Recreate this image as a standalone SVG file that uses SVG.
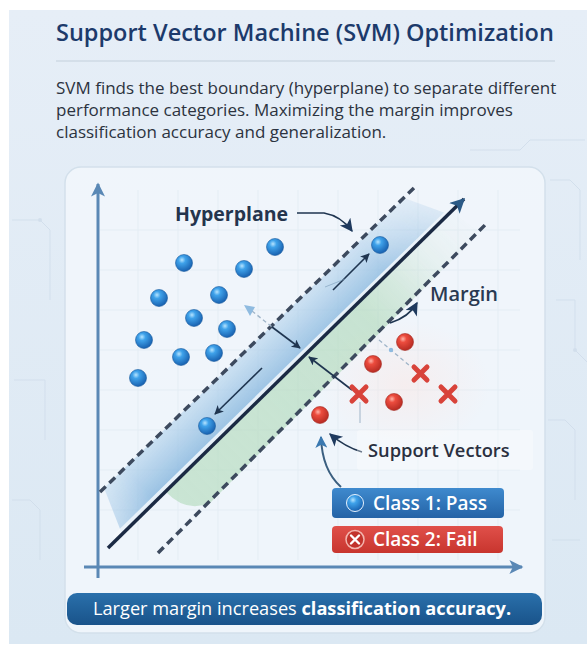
<svg xmlns="http://www.w3.org/2000/svg" width="587" height="646" viewBox="0 0 587 646">
<style>
.title{font-family:"Open Sans","Liberation Sans",sans-serif;font-weight:600;font-size:23.5px;fill:#1c3a6b}
.para{font-family:"Open Sans","Liberation Sans",sans-serif;font-size:17px;fill:#2c3340}
.lbl{font-family:"Open Sans","Liberation Sans",sans-serif;font-weight:700;font-size:19.5px;fill:#24344d}
.lblm{font-family:"Open Sans","Liberation Sans",sans-serif;font-weight:600;font-size:20px;fill:#2a3a52}
.lbls{font-family:"Open Sans","Liberation Sans",sans-serif;font-weight:600;font-size:18.3px;fill:#2a3040}
.leg{font-family:"Open Sans","Liberation Sans",sans-serif;font-weight:600;font-size:19px;fill:#ffffff}
.ban{font-family:"Open Sans","Liberation Sans",sans-serif;font-size:18.2px;fill:#ffffff}
.axis{stroke:#5a88b5;stroke-width:3;fill:none}
.dash{stroke:#3d4a5e;stroke-width:3.5;stroke-dasharray:8 5;fill:none}
.thin{stroke:#1f3550;stroke-width:1.6;fill:none}
.faint{stroke:#9fb4c8;stroke-width:1.3;fill:none;stroke-dasharray:4 3}
.grid{stroke:#dbe6ef;stroke-width:1;opacity:.55}
.trace{stroke:#cfdcea;stroke-width:1;fill:none}
.bd{fill:url(#gBlue);stroke:#1a5a9e;stroke-width:.6}
.rd{fill:url(#gRed);stroke:#a52a22;stroke-width:.6}
.x{stroke:#d8433a;stroke-width:5;stroke-linecap:round}
</style>
<defs>
<linearGradient id="gBg" x1="0" y1="0" x2="0" y2="1">
<stop offset="0" stop-color="#e6eef7"/><stop offset="1" stop-color="#dbe8f3"/>
</linearGradient>
<radialGradient id="gBlue" cx="0.38" cy="0.32" r="0.7">
<stop offset="0" stop-color="#b6e4ff"/><stop offset="0.3" stop-color="#3fa2ea"/><stop offset="1" stop-color="#175fae"/>
</radialGradient>
<radialGradient id="gRed" cx="0.38" cy="0.32" r="0.7">
<stop offset="0" stop-color="#ffb3a8"/><stop offset="0.3" stop-color="#ec4c3e"/><stop offset="1" stop-color="#b52a22"/>
</radialGradient>
<linearGradient id="gBand" gradientUnits="userSpaceOnUse" x1="252" y1="338" x2="284" y2="372">
<stop offset="0" stop-color="#bcd8ee" stop-opacity="0.6"/><stop offset="1" stop-color="#86b6de" stop-opacity="0.8"/>
</linearGradient>
<linearGradient id="gGreen" gradientUnits="userSpaceOnUse" x1="470" y1="215" x2="180" y2="500">
<stop offset="0" stop-color="#cfe6d6" stop-opacity="0.15"/><stop offset="0.35" stop-color="#acd7b6" stop-opacity="0.6"/><stop offset="1" stop-color="#b9ddc2" stop-opacity="0.7"/>
</linearGradient>
<linearGradient id="gFade" gradientUnits="userSpaceOnUse" x1="450" y1="200" x2="105" y2="530">
<stop offset="0" stop-color="#ffffff" stop-opacity="0.15"/><stop offset="0.2" stop-color="#ffffff" stop-opacity="1"/><stop offset="0.88" stop-color="#ffffff" stop-opacity="1"/><stop offset="1" stop-color="#ffffff" stop-opacity="0.4"/>
</linearGradient>
<mask id="mFade" maskUnits="userSpaceOnUse" x="0" y="0" width="587" height="646">
<rect x="0" y="0" width="587" height="646" fill="url(#gFade)"/>
</mask>
<radialGradient id="gPink" cx="0.5" cy="0.5" r="0.5">
<stop offset="0" stop-color="#fbe6e2" stop-opacity="0.5"/><stop offset="1" stop-color="#fbe6e2" stop-opacity="0"/>
</radialGradient>
<linearGradient id="gL1" x1="0" y1="0" x2="0" y2="1">
<stop offset="0" stop-color="#3f8ace"/><stop offset="1" stop-color="#2463a6"/>
</linearGradient>
<linearGradient id="gL2" x1="0" y1="0" x2="0" y2="1">
<stop offset="0" stop-color="#e0504a"/><stop offset="1" stop-color="#c8352e"/>
</linearGradient>
<linearGradient id="gBan" x1="0" y1="0" x2="0" y2="1">
<stop offset="0" stop-color="#2a70ab"/><stop offset="1" stop-color="#19538a"/>
</linearGradient>
<marker id="mAxis" viewBox="0 0 10 10" refX="9" refY="5" markerWidth="16" markerHeight="14" markerUnits="userSpaceOnUse" orient="auto">
<path d="M0,0 L10,5 L0,10 L2.5,5 z" fill="#5a88b5"/>
</marker>
<marker id="mHyp" viewBox="0 0 10 10" refX="9" refY="5" markerWidth="17" markerHeight="15" markerUnits="userSpaceOnUse" orient="auto">
<path d="M0,0 L10,5 L0,10 L2.5,5 z" fill="#2b5a86"/>
</marker>
<marker id="mNavy" viewBox="0 0 10 10" refX="9" refY="5" markerWidth="10" markerHeight="9" markerUnits="userSpaceOnUse" orient="auto">
<path d="M0,0 L10,5 L0,10 L2.5,5 z" fill="#1f3550"/>
</marker>
<marker id="mBig" viewBox="0 0 10 10" refX="9" refY="5" markerWidth="15" markerHeight="13" markerUnits="userSpaceOnUse" orient="auto">
<path d="M0,0 L10,5 L0,10 L2.5,5 z" fill="#1f3a5e"/>
</marker>
<marker id="mSteel" viewBox="0 0 10 10" refX="9" refY="5" markerWidth="14" markerHeight="12" markerUnits="userSpaceOnUse" orient="auto">
<path d="M0,0 L10,5 L0,10 L2.5,5 z" fill="#3b79b0"/>
</marker>
</defs>

<!-- page background -->
<rect x="0" y="0" width="587" height="646" fill="#ffffff"/>
<rect x="9" y="10" width="578" height="634" fill="url(#gBg)"/>
<g opacity="0.8">
<path class="trace" d="M550,180 H570 L580,190 V260"/>
<path class="trace" d="M556,300 H575 V350 L587,362"/>
<path class="trace" d="M548,420 H565 L575,430 V500"/>
<path class="trace" d="M552,540 H580"/>
<path class="trace" d="M12,220 H40 L50,230 V300"/>
<path class="trace" d="M14,380 H45 V440"/>
<path class="trace" d="M12,500 H30 L40,510 V560"/>
<path class="trace" d="M470,150 H520 L530,140 H585"/>
<circle cx="40" cy="220" r="2" fill="#cfdcea"/><circle cx="575" cy="350" r="2" fill="#cfdcea"/>
</g>

<!-- title & description -->
<g id="header">
<text class="title" x="56" y="41">Support Vector Machine (SVM) Optimization</text>
<line x1="56" y1="61" x2="555" y2="61" stroke="#c4d0dc" stroke-width="1.2"/>
<text class="para" x="56" y="94">SVM finds the best boundary (hyperplane) to separate different</text>
<text class="para" x="56" y="116">performance categories. Maximizing the margin improves</text>
<text class="para" x="56" y="138">classification accuracy and generalization.</text>
</g>

<!-- plot panel -->
<g id="panel">
<rect x="65" y="167" width="480" height="466" rx="16" fill="#f2f7fb" fill-opacity="0.85" stroke="#d3e0eb" stroke-width="1.5"/>
<g class="grid">
<line x1="138" y1="190" x2="138" y2="560"/><line x1="178" y1="190" x2="178" y2="560"/><line x1="218" y1="190" x2="218" y2="560"/>
<line x1="258" y1="190" x2="258" y2="560"/><line x1="298" y1="190" x2="298" y2="560"/><line x1="338" y1="190" x2="338" y2="560"/>
<line x1="378" y1="190" x2="378" y2="560"/><line x1="418" y1="190" x2="418" y2="560"/><line x1="458" y1="190" x2="458" y2="560"/><line x1="498" y1="190" x2="498" y2="560"/>
<line x1="100" y1="230" x2="520" y2="230"/><line x1="100" y1="270" x2="520" y2="270"/><line x1="100" y1="310" x2="520" y2="310"/>
<line x1="100" y1="350" x2="520" y2="350"/><line x1="100" y1="390" x2="520" y2="390"/><line x1="100" y1="430" x2="520" y2="430"/>
<line x1="100" y1="470" x2="520" y2="470"/><line x1="100" y1="510" x2="520" y2="510"/>
</g>
<ellipse cx="405" cy="385" rx="85" ry="65" fill="url(#gPink)"/>
</g>

<!-- margin bands -->
<g id="bands" mask="url(#mFade)">
<polygon points="104,488 404,198 448,214 122,534" fill="url(#gBand)"/>
<path d="M452,212 L480,232 L210,503 Q186,513 166,492 Z" fill="url(#gGreen)"/>
<line x1="114" y1="538" x2="448" y2="212" stroke="#ffffff" stroke-width="5" stroke-opacity="0.75"/>
</g>

<!-- axes -->
<g id="axes">
<line class="axis" x1="98" y1="578" x2="98" y2="184" marker-end="url(#mAxis)"/>
<line class="axis" x1="84" y1="567" x2="522" y2="567" marker-end="url(#mAxis)"/>
</g>

<!-- hyperplane and margin lines -->
<g id="hyperplane">
<line x1="108" y1="548" x2="464" y2="199" stroke="#1b2a44" stroke-width="3.5" marker-end="url(#mHyp)"/>
</g>
<g id="margin-lines">
<line class="dash" x1="100" y1="492" x2="415" y2="187"/>
<line class="dash" x1="158" y1="553" x2="487" y2="223"/>
</g>

<!-- connectors -->
<g id="connectors">
<path class="thin" d="M297,213 L324,213 Q341,216 352,231" stroke-width="2" marker-end="url(#mBig)"/>
<line class="thin" x1="333" y1="290" x2="369" y2="254" marker-end="url(#mNavy)"/>
<line x1="325" y1="287" x2="345" y2="279" stroke="#7a9bb8" stroke-width="1" opacity="0.6"/>
<line class="faint" x1="252" y1="311" x2="272" y2="327"/>
<path d="M244,305 L255,307 L250,316 Z" fill="#8fbbe0"/>
<line class="thin" x1="272" y1="327" x2="300" y2="348" marker-end="url(#mNavy)"/>
<line class="thin" x1="352" y1="390" x2="309" y2="357" marker-end="url(#mNavy)"/>
<line class="thin" x1="262" y1="368" x2="215" y2="414" marker-end="url(#mNavy)"/>
<path class="thin" d="M390,323 Q409,317 417,303" stroke-width="2" marker-end="url(#mBig)"/>
<line class="faint" x1="379" y1="340" x2="410" y2="366"/>
<circle cx="391" cy="350" r="2.2" fill="#8fbbe0"/>
<line x1="360" y1="402" x2="360" y2="423" stroke="#9fb4c8" stroke-width="1"/>
<path class="thin" d="M362,452 Q345,447 330,434" stroke-width="2" marker-end="url(#mBig)"/>
<path d="M341,487 Q322,470 321,437" fill="none" stroke="#3b5f80" stroke-width="2" marker-end="url(#mSteel)"/>
</g>

<!-- class 1 points -->
<g id="class1">
<g id="b1"><circle class="bd" cx="275" cy="247" r="8.5"/></g>
<g id="b2"><circle class="bd" cx="184" cy="263" r="8.5"/></g>
<g id="b3"><circle class="bd" cx="244" cy="269" r="8.5"/></g>
<g id="b4"><circle class="bd" cx="159" cy="298" r="8.5"/></g>
<g id="b5"><circle class="bd" cx="219" cy="295" r="8.5"/></g>
<g id="b6"><circle class="bd" cx="194" cy="318" r="8.5"/></g>
<g id="b7"><circle class="bd" cx="227" cy="329" r="8.5"/></g>
<g id="b8"><circle class="bd" cx="144" cy="340" r="8.5"/></g>
<g id="b9"><circle class="bd" cx="181" cy="357" r="8.5"/></g>
<g id="b10"><circle class="bd" cx="214" cy="353" r="8.5"/></g>
<g id="b11"><circle class="bd" cx="138" cy="378" r="8.5"/></g>
<g id="sv1"><circle class="bd" cx="380" cy="245" r="8.5"/></g>
<g id="sv2"><circle class="bd" cx="207" cy="426" r="8.5"/></g>
</g>

<!-- class 2 points -->
<g id="class2">
<g id="r1"><circle class="rd" cx="405" cy="342" r="8.5"/></g>
<g id="r2"><circle class="rd" cx="373" cy="364" r="8.5"/></g>
<g id="r3"><circle class="rd" cx="394" cy="402" r="8.5"/></g>
<g id="sv3"><circle class="rd" cx="320" cy="415" r="8.5"/></g>
<g id="x1"><path class="x" d="M414,367 L427,380 M427,367 L414,380"/></g>
<g id="x2"><path class="x" d="M352,387 L366,401 M366,387 L352,401"/></g>
<g id="x3"><path class="x" d="M441,387 L455,401 M455,387 L441,401"/></g>
</g>

<!-- labels -->
<g id="label-hyperplane"><text class="lbl" x="175" y="221">Hyperplane</text></g>
<g id="label-margin"><text class="lblm" x="430" y="301">Margin</text></g>
<g id="label-sv">
<rect x="357" y="430" width="176" height="40" rx="3" fill="#ffffff" fill-opacity="0.35"/>
<text class="lbls" x="368" y="457">Support Vectors</text>
</g>

<!-- legend -->
<g id="legend-class1">
<rect x="332" y="488" width="172" height="30" rx="4" fill="url(#gL1)"/>
<circle cx="355" cy="503" r="8.5" fill="url(#gBlue)" stroke="#e8f4ff" stroke-width="1"/>
<text class="leg" x="373" y="510">Class 1: Pass</text>
</g>
<g id="legend-class2">
<rect x="332" y="526" width="171" height="27" rx="4" fill="url(#gL2)"/>
<circle cx="355" cy="539.5" r="9" fill="#c2332c" stroke="#f3b5ae" stroke-width="1.5"/>
<path d="M351,535.5 L359,543.5 M359,535.5 L351,543.5" stroke="#ffffff" stroke-width="2.4" stroke-linecap="round"/>
<text class="leg" x="373" y="546">Class 2: Fail</text>
</g>

<!-- bottom banner -->
<g id="banner">
<rect x="67" y="593" width="475" height="32" rx="10" fill="url(#gBan)"/>
<text class="ban" x="93" y="615">Larger margin increases <tspan font-weight="700">classification accuracy.</tspan></text>
</g>
</svg>
